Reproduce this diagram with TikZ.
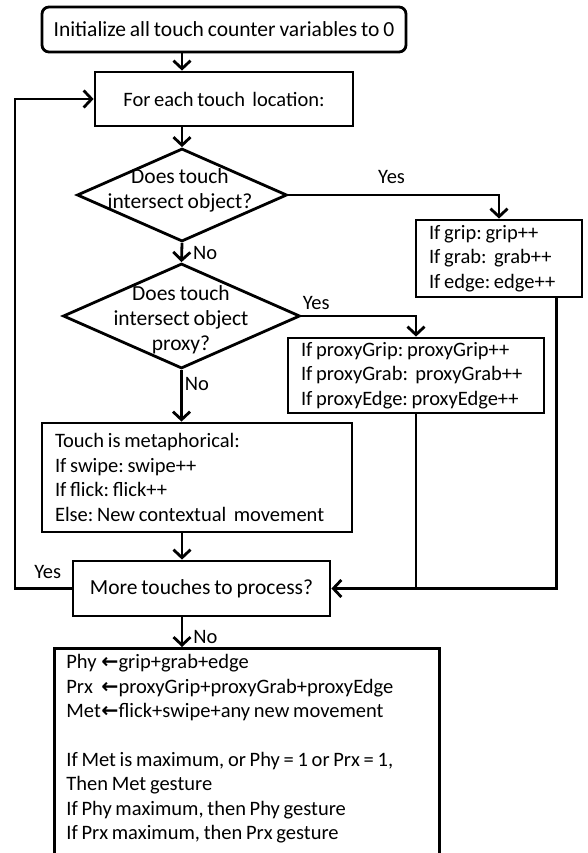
\documentclass[tikz,border=0pt]{standalone}
\usepackage{fontspec}
\setmainfont{Carlito}[WordSpace=0.8]
\newfontfamily\arrowfont{DejaVu Sans}
\usetikzlibrary{calc,arrows.meta,shapes.geometric}
\newcommand{\getsarrow}{{\arrowfont\bfseries ←}}
\newcommand{\lhs}[1]{\makebox[35pt][l]{#1}}
\frenchspacing

\begin{document}
\begin{tikzpicture}[x=1pt,y=-1pt,line width=2.8pt,
    font=\fontsize{20.5}{24.5}\selectfont,
    big/.style={font=\fontsize{21.5}{25}\selectfont},
    startbox/.style={draw,big,rounded corners=7pt,minimum width=364pt,minimum height=45pt,inner sep=0pt},
    procbox/.style={draw,inner sep=0pt},
    decision/.style={draw,diamond,inner sep=0pt},
    qtext/.style={big,align=center,inner sep=0pt},
    lbl/.style={inner sep=0pt},
    flow/.style={-{Straight Barb[length=8pt,width=17pt]}}]

    \useasboundingbox (0,0) rectangle (587,853);

    \node[startbox] (init) at (224,29.5) {Initialize all touch counter variables to 0};
    \node[procbox,minimum width=258pt,minimum height=54pt] (loc) at (224,99) {For each touch\ \ location:};
    \node[decision,minimum width=210pt,minimum height=93pt] (q1) at (182,195) {};
    \node[qtext] (q1text) at (180,190) {Does touch\\intersect object?};
    \node[procbox,minimum width=166pt,minimum height=77pt] (grip) at (499,258.5) {\parbox{140pt}{If grip: grip++\\If grab:\ \ grab++\\If edge: edge++}};
    \node[decision,minimum width=237pt,minimum height=105pt] (q2) at (181.5,316) {};
    \node[qtext] (q2text) at (181,320) {Does touch\\intersect object\\proxy?};
    \node[procbox,minimum width=256pt,minimum height=75pt] (proxy) at (416,375.5) {\parbox{230pt}{If proxyGrip: proxyGrip++\\If proxyGrab:\ \ proxyGrab++\\If proxyEdge: proxyEdge++}};
    \node[procbox,minimum width=310pt,minimum height=109pt] (meta) at (197,477.5) {\parbox{284pt}{Touch is metaphorical:\\If swipe: swipe++\\If flick: flick++\\Else: New contextual\ \ movement}};
    \node[procbox,big,minimum width=257pt,minimum height=55pt] (more) at (201.5,588.5) {More touches to process?};
    \node[draw,anchor=north west,inner xsep=12pt,inner ysep=6pt] (result) at (53,647) {\parbox[t][215pt][t]{361pt}{%
        \lhs{Phy}\getsarrow grip+grab+edge\\
        \lhs{Prx}\getsarrow proxyGrip+proxyGrab+proxyEdge\\
        \lhs{Met}\getsarrow flick+swipe+any new movement\\[24pt]
        If Met is maximum, or Phy = 1 or Prx = 1,\\
        Then Met gesture\\
        If Phy maximum, then Phy gesture\\
        If Prx maximum, then Prx gesture}};

    \coordinate (back) at (15,588.5);
    \coordinate (gripout) at ($(grip.south east)+(-27,0)$);

    \draw[flow] (init.south -| q1.north) -- (loc.north -| q1.north);
    \draw[flow] (loc.south -| q1.north) -- (q1.north);
    \draw[flow] (q1.east) -| node[lbl,pos=0.245,above=10pt] (yes1) {Yes} (grip.north);
    \draw[flow] (q1.south) -- node[lbl,right=10pt] (no1) {No} (q2.north);
    \draw[flow] (q2.east) -| node[lbl,pos=0.065,above=5pt] (yes2) {Yes} (proxy.north);
    \draw[flow] (q2.south) -- node[lbl,pos=0.28,right=2pt] (no2) {No} (q2.south |- meta.north);
    \draw[flow] (meta.south -| q1.north) -- (more.north -| q1.north);
    \draw[flow] (more.west) -- node[lbl,pos=0.42,above=8pt] (yes3) {Yes} (back) |- (loc.west);
    \draw (proxy.south) -- (proxy.south |- more.east);
    \draw[flow] (gripout) |- (more.east);
    \draw[flow] (more.south -| q1.north) -- node[lbl,pos=0.65,right=10pt] (no3) {No} (result.north -| q1.north);
\end{tikzpicture}
\end{document}
